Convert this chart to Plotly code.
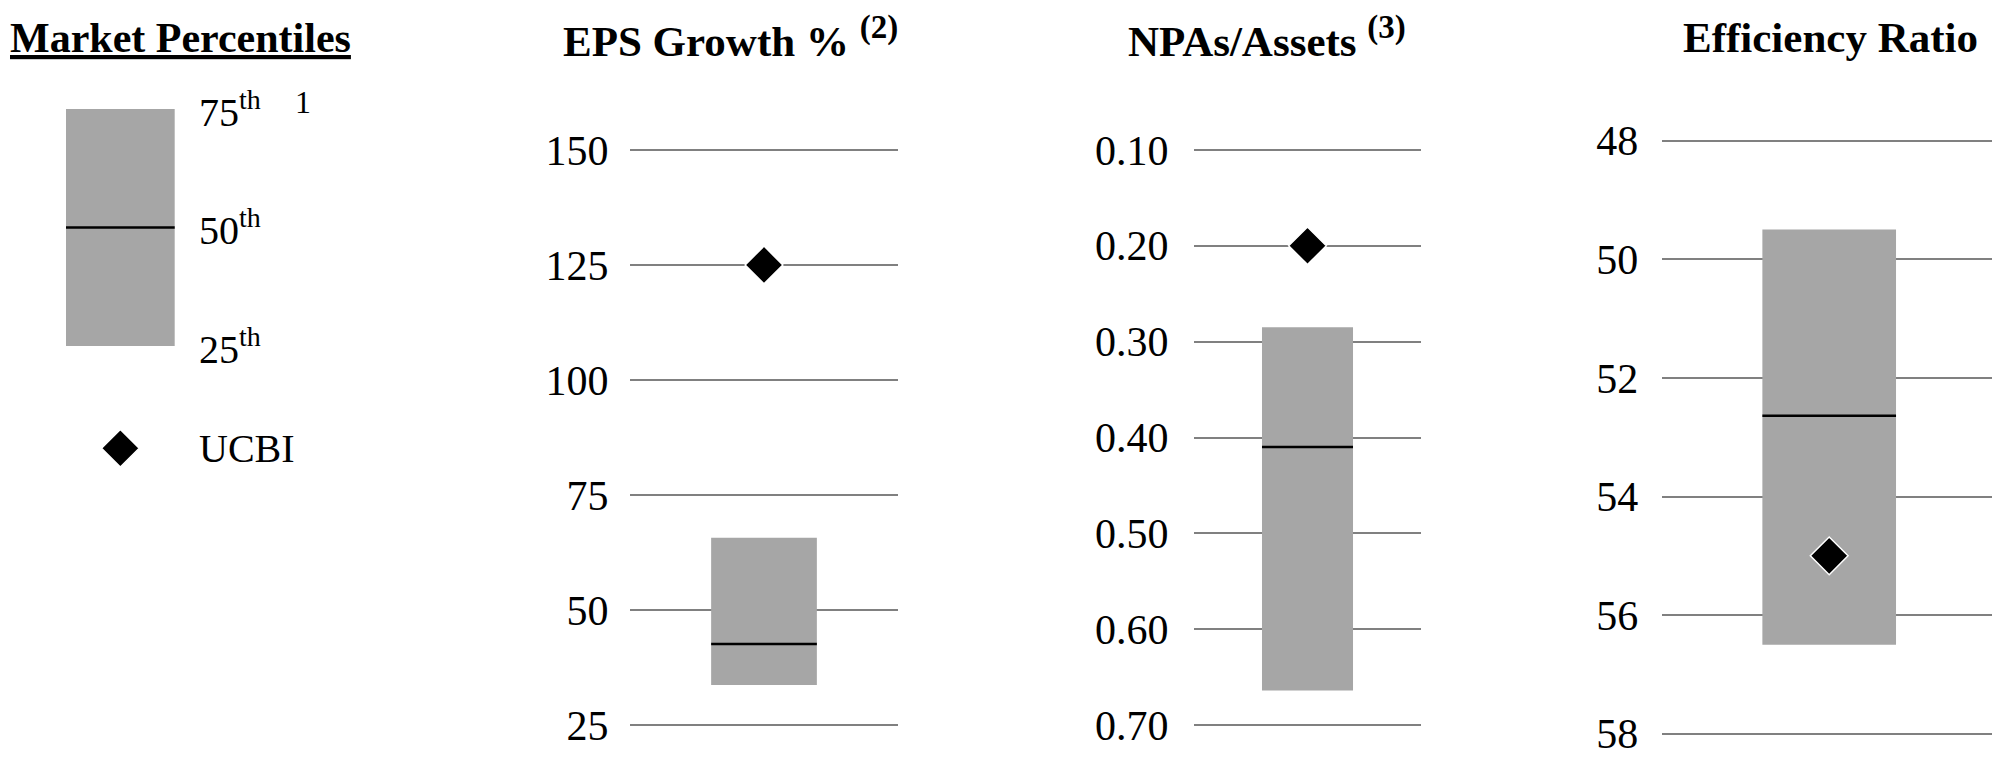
import plotly.graph_objects as go

# The page body adds an 8px margin, so the figure is drawn 8px in from the window edge.
PAGE_OFFSET = 8
W, H = 2000 - PAGE_OFFSET, 763 - PAGE_OFFSET
FONT = "Liberation Serif, Times New Roman, serif"

# ---------------- data ----------------
panel_titles = ["EPS Growth %", "NPAs/Assets", "Efficiency Ratio"]
panel_notes = ["(2)", "(3)", ""]
box_bottom = [33.7, 0.664, 56.5]     # 25th percentile (visual bottom of box)
box_median = [42.6, 0.41, 52.64]     # 50th percentile
box_top = [65.7, 0.285, 49.5]        # 75th percentile (visual top of box)
ucbi_values = [125, 0.20, 55.0]
eps_ticks = [25, 50, 75, 100, 125, 150]
npa_ticks = [0.10, 0.20, 0.30, 0.40, 0.50, 0.60, 0.70]
eff_ticks = [48, 50, 52, 54, 56, 58]
tick_sets = [eps_ticks, npa_ticks, eff_ticks]
tick_formats = ["d", ".2f", "d"]

legend_levels = [25, 50, 75]
legend_labels = ["25<sup>th</sup>", "50<sup>th</sup>", "75<sup>th</sup>"]
legend_marker_label = "UCBI"

# ---------------- layout geometry (window pixels) ----------------
def px_x(p):
    return max(0.0, (p - PAGE_OFFSET) / W)

def px_y(p):
    return 1 - (p - PAGE_OFFSET) / H

panels = [
    dict(x0=630, x1=898, ytop=126.9, ybot=748.1, rng=[20, 155], ticklen=12, bw=0.789, tc=730),
    dict(x0=1194, x1=1421, ytop=121.1, ybot=753.9, rng=[0.73, 0.07], ticklen=16, bw=0.802, tc=1267),
    dict(x0=1661.7, x1=1996.7, ytop=116.9, ybot=757.5, rng=[58.4, 47.6], ticklen=14, bw=0.798, tc=1830),
]

GRID = "#808080"
BOX = "#a6a6a6"
DIAMOND = dict(symbol="diamond", size=29, color="black", line=dict(color="white", width=1.5))

fig = go.Figure()
layout = dict(
    width=W, height=H,
    margin=dict(l=0, r=0, t=0, b=0),
    paper_bgcolor="white", plot_bgcolor="rgba(0,0,0,0)",
    showlegend=False,
    font=dict(family=FONT, color="black"),
    annotations=[],
)

for i, p in enumerate(panels):
    n = i + 1
    xa = "x" if n == 1 else f"x{n}"
    ya = "y" if n == 1 else f"y{n}"
    fig.add_trace(go.Bar(
        x=[0], base=[box_bottom[i]], y=[box_top[i] - box_bottom[i]], width=[p["bw"]],
        marker=dict(color=BOX, line=dict(width=0)), xaxis=xa, yaxis=ya, hoverinfo="skip",
    ))
    fig.add_trace(go.Scatter(
        x=[-p["bw"] / 2, p["bw"] / 2], y=[box_median[i], box_median[i]], mode="lines",
        line=dict(color="black", width=2.5), xaxis=xa, yaxis=ya, hoverinfo="skip",
    ))
    fig.add_trace(go.Scatter(
        x=[0], y=[ucbi_values[i]], mode="markers", marker=DIAMOND,
        xaxis=xa, yaxis=ya, cliponaxis=False,
    ))
    layout[f"xaxis{'' if n == 1 else n}"] = dict(
        domain=[px_x(p["x0"]), min(1.0, px_x(p["x1"]))], range=[-1, 1], visible=False,
        fixedrange=True, anchor=ya,
    )
    layout[f"yaxis{'' if n == 1 else n}"] = dict(
        domain=[px_y(p["ybot"]), px_y(p["ytop"])], range=p["rng"], anchor=xa,
        tickvals=tick_sets[i], tickformat=tick_formats[i],
        showgrid=True, gridcolor=GRID, gridwidth=2, zeroline=False, showline=False,
        ticks="outside", ticklen=p["ticklen"], tickcolor="rgba(0,0,0,0)",
        tickfont=dict(size=42, family=FONT, color="black"),
    )
    title = f"<b>{panel_titles[i]}"
    if panel_notes[i]:
        title += f" <sup><span style='font-size:33px'>{panel_notes[i]}</span></sup>"
    title += "</b>"
    layout["annotations"].append(dict(
        text=title, xref="paper", yref="paper",
        x=px_x(p["tc"]), y=px_y(37), xanchor="center", yanchor="middle",
        showarrow=False, font=dict(size=43, family=FONT, color="black"),
    ))

# ---------------- legend panel ----------------
leg_center_px, leg_unit_px = 120.35, 108.7
leg_left_px, leg_right_px = PAGE_OFFSET, 400
leg_x_range = [(leg_left_px - leg_center_px) / leg_unit_px, (leg_right_px - leg_center_px) / leg_unit_px]
lv_px = 4.74  # pixels per percentile unit
leg_y_range = [25 - (763 - 346) / lv_px, 75 + (109 - PAGE_OFFSET) / lv_px]
legend_marker_y = 25 - (448.3 - 346) / lv_px
label_x = (197 - leg_center_px) / leg_unit_px

fig.add_trace(go.Bar(
    x=[0], base=[legend_levels[0]], y=[legend_levels[2] - legend_levels[0]], width=[1],
    marker=dict(color=BOX, line=dict(width=0)), xaxis="x4", yaxis="y4", hoverinfo="skip",
))
fig.add_trace(go.Scatter(
    x=[-0.5, 0.5], y=[legend_levels[1], legend_levels[1]], mode="lines",
    line=dict(color="black", width=2.5), xaxis="x4", yaxis="y4", hoverinfo="skip",
))
fig.add_trace(go.Scatter(
    x=[0], y=[legend_marker_y], mode="markers", marker=DIAMOND,
    xaxis="x4", yaxis="y4", cliponaxis=False,
))
layout["xaxis4"] = dict(domain=[0, px_x(leg_right_px)], range=leg_x_range, visible=False, anchor="y4")
layout["yaxis4"] = dict(domain=[0, 1], range=leg_y_range, visible=False, anchor="x4")

for lvl, lab in zip(legend_levels, legend_labels):
    layout["annotations"].append(dict(
        text=lab, xref="x4", yref="y4", x=label_x, y=lvl, xanchor="left", yanchor="middle",
        showarrow=False, font=dict(size=40, family=FONT, color="black"),
    ))
layout["annotations"].append(dict(
    text=legend_marker_label, xref="x4", yref="y4", x=label_x, y=legend_marker_y,
    xanchor="left", yanchor="middle", showarrow=False,
    font=dict(size=40, family=FONT, color="black"),
))
layout["annotations"].append(dict(
    text="1", xref="paper", yref="paper", x=px_x(303), y=px_y(102), xanchor="center",
    yanchor="middle", showarrow=False, font=dict(size=32, family=FONT, color="black"),
))
layout["annotations"].append(dict(
    text="<b><u>Market Percentiles</u></b>", xref="paper", yref="paper",
    x=0, y=px_y(38), xanchor="left", yanchor="middle", showarrow=False,
    font=dict(size=42, family=FONT, color="black"),
))

fig.update_layout(**layout)
fig.write_html("out.html")
